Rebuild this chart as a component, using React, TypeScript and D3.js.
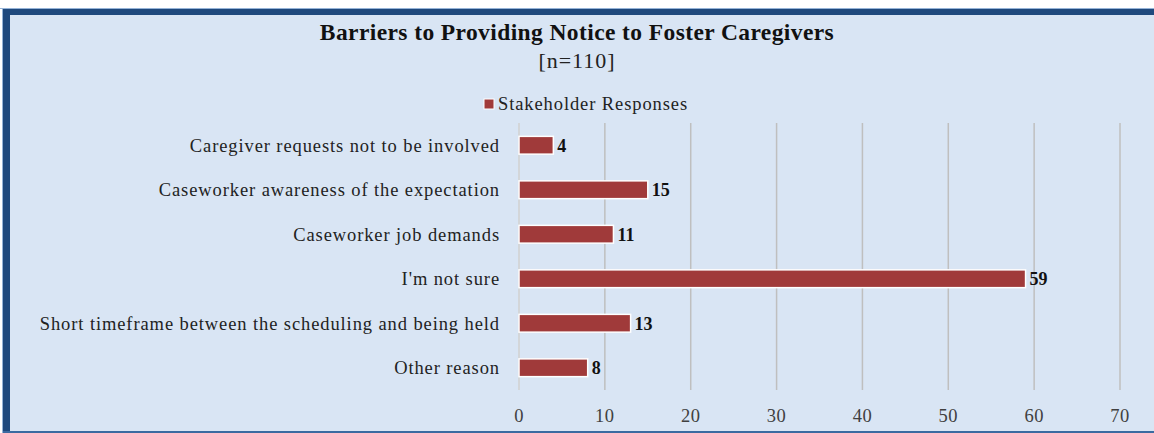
import React, { useRef, useEffect } from 'react';
import * as d3 from 'd3';

const categories = [
    "Caregiver requests not to be involved",
    "Caseworker awareness of the expectation",
    "Caseworker job demands",
    "I'm not sure",
    "Short timeframe between the scheduling and being held",
    "Other reason",
];
const responses = [4, 15, 11, 59, 13, 8];
const xTicks = [0, 10, 20, 30, 40, 50, 60, 70];

const title = "Barriers to Providing Notice to Foster Caregivers";
const subtitle = "[n=110]";
const seriesName = "Stakeholder Responses";

const width = 1154;
const height = 433;
const font = "'Liberation Serif', 'Times New Roman', serif";

const BarrierChart = () => {
    const svgRef = useRef<SVGSVGElement>(null);

    useEffect(() => {
        const svg = d3.select(svgRef.current);
        svg.selectAll("*").remove();

        const margin = { top: 123, right: 34, bottom: 43, left: 519 };

        // frame
        svg.append("rect")
            .attr("x", 3).attr("y", 9)
            .attr("width", width).attr("height", 423)
            .attr("fill", "#D9E5F4");
        svg.append("rect")
            .attr("x", 0).attr("y", 8)
            .attr("width", width).attr("height", 1)
            .attr("fill", "#95B3D7");
        svg.append("rect")
            .attr("x", 3).attr("y", 9)
            .attr("width", width).attr("height", 6)
            .attr("fill", "#1F497D");
        svg.append("rect")
            .attr("x", 2).attr("y", 9)
            .attr("width", 1).attr("height", 424)
            .attr("fill", "#95B3D7");
        svg.append("rect")
            .attr("x", 3).attr("y", 9)
            .attr("width", 7).attr("height", 424)
            .attr("fill", "#1F497D");
        svg.append("rect")
            .attr("x", 3).attr("y", 431)
            .attr("width", width).attr("height", 2)
            .attr("fill", "#3B6AA0");

        const x = d3.scaleLinear()
            .domain([0, 70])
            .range([margin.left, width - margin.right]);

        const y = d3.scaleBand()
            .domain(categories)
            .range([margin.top, height - margin.bottom])
            .paddingInner(0.6)
            .paddingOuter(0.3);

        // title
        svg.append("text")
            .attr("x", width / 2).attr("y", 40)
            .attr("text-anchor", "middle")
            .style("font-family", font)
            .style("font-weight", "bold")
            .style("font-size", "23.5px")
            .style("letter-spacing", "0.4px")
            .attr("fill", "#111")
            .text(title);
        svg.append("text")
            .attr("x", width / 2).attr("y", 68)
            .attr("text-anchor", "middle")
            .style("font-family", font)
            .style("font-size", "22px")
            .style("letter-spacing", "1px")
            .attr("fill", "#222")
            .text(subtitle);

        // legend
        const legend = svg.append("g").attr("transform", "translate(484,104)");
        legend.append("rect")
            .attr("x", 0).attr("y", -5)
            .attr("width", 10).attr("height", 10)
            .attr("fill", "#A03A3A")
            .attr("stroke", "#fff").attr("stroke-width", 1);
        legend.append("text")
            .attr("x", 14).attr("y", 0)
            .attr("dy", "0.35em")
            .style("font-family", font)
            .style("font-size", "18.5px")
            .style("letter-spacing", "0.9px")
            .attr("fill", "#222")
            .text(seriesName);

        // gridlines
        svg.append("g")
            .selectAll("line")
            .data(xTicks)
            .enter()
            .append("line")
            .attr("x1", d => x(d)).attr("x2", d => x(d))
            .attr("y1", margin.top).attr("y2", height - margin.bottom)
            .attr("stroke", d => d === 0 ? "#D0D0D0" : "#BFBFBF")
            .attr("stroke-width", 1.5);

        // x tick labels
        svg.append("g")
            .selectAll("text")
            .data(xTicks)
            .enter()
            .append("text")
            .attr("x", d => x(d))
            .attr("y", 416)
            .attr("dy", "0.35em")
            .attr("text-anchor", "middle")
            .style("font-family", font)
            .style("font-size", "18.5px")
            .style("letter-spacing", "0.5px")
            .attr("fill", "#404040")
            .text(d => d);

        // category labels
        svg.append("g")
            .selectAll("text")
            .data(categories)
            .enter()
            .append("text")
            .attr("x", margin.left - 19)
            .attr("y", d => (y(d) ?? 0) + y.bandwidth() / 2)
            .attr("dy", "0.35em")
            .attr("text-anchor", "end")
            .style("font-family", font)
            .style("font-size", "18.5px")
            .style("letter-spacing", "0.9px")
            .attr("fill", "#222")
            .text(d => d);

        // bars
        svg.append("g")
            .selectAll("rect")
            .data(responses)
            .enter()
            .append("rect")
            .attr("x", x(0))
            .attr("y", (d, i) => y(categories[i]) ?? 0)
            .attr("width", d => x(d) - x(0))
            .attr("height", y.bandwidth())
            .attr("fill", "#A03A3A")
            .attr("stroke", "#fff")
            .attr("stroke-width", 1.5);

        // value labels
        svg.append("g")
            .selectAll("text")
            .data(responses)
            .enter()
            .append("text")
            .attr("x", d => x(d) + 4)
            .attr("y", (d, i) => (y(categories[i]) ?? 0) + y.bandwidth() / 2)
            .attr("dy", "0.35em")
            .style("font-family", font)
            .style("font-weight", "bold")
            .style("font-size", "18px")
            .attr("fill", "#111")
            .text(d => d);
    }, []);

    return (
        <svg ref={svgRef} width={width} height={height}
            style={{ position: "absolute", left: 0, top: 0 }}></svg>
    );
};

export default function App() {
    return <BarrierChart />;
}
